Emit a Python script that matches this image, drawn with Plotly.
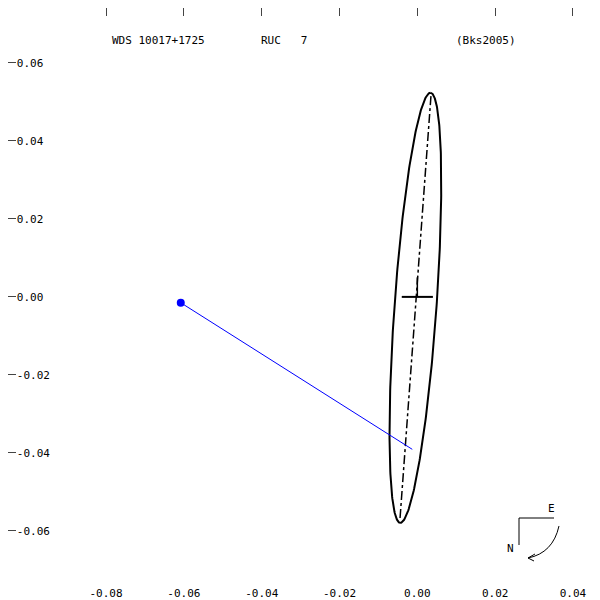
import numpy as np
import plotly.graph_objects as go

# orbit ellipse parameters (apparent)
center = (-0.0005, -0.0028)
semi_major_vec = (0.0039, 0.05515)
semi_minor = 0.0054
node_line_x = [0.0035, -0.0045]
node_line_y = [0.0515, -0.0575]
obs_x = [-0.0608]
obs_y = [-0.0015]
resid_x = [-0.0608, -0.0013]
resid_y = [-0.0015, -0.0391]
x_ticks = [-0.10, -0.08, -0.06, -0.04, -0.02, 0.00, 0.02, 0.04]
y_ticks = [-0.06, -0.04, -0.02, 0.00, 0.02, 0.04, 0.06]

t = np.linspace(0, 2*np.pi, 361)
ax_, ay_ = semi_major_vec
L = np.hypot(ax_, ay_)
px, py = ay_/L*semi_minor, -ax_/L*semi_minor
ex = center[0] + ax_*np.cos(t) + px*np.sin(t)
ey = center[1] + ay_*np.cos(t) + py*np.sin(t)

fig = go.Figure()
fig.add_trace(go.Scatter(x=ex, y=ey, mode="lines", line=dict(color="black", width=2)))
fig.add_trace(go.Scatter(x=node_line_x, y=node_line_y, mode="lines", line=dict(color="black", width=1.5, dash="dashdot")))
fig.add_trace(go.Scatter(x=[-0.004, 0.004], y=[0, 0], mode="lines", line=dict(color="black", width=2)))
fig.add_trace(go.Scatter(x=[0, 0], y=[0, 0.005], mode="lines", line=dict(color="black", width=1.5)))
fig.add_trace(go.Scatter(x=resid_x, y=resid_y, mode="lines", line=dict(color="blue", width=1)))
fig.add_trace(go.Scatter(x=obs_x, y=obs_y, mode="markers", marker=dict(color="blue", size=8)))

font = dict(family="DejaVu Sans Mono", size=11, color="black")
def axis(vals, rng):
    return dict(range=rng, showgrid=False, zeroline=False, ticks="inside", ticklen=8, tickwidth=1,
                tickvals=vals, ticktext=["%.2f" % v for v in vals], ticklabelposition="inside",
                showline=True, linecolor="black", linewidth=3, mirror="ticks", tickfont=font,
                automargin=False)
fig.update_layout(width=600, height=600, margin=dict(l=0, r=0, t=0, b=0, pad=0, autoexpand=False),
                  plot_bgcolor="white", paper_bgcolor="white", showlegend=False,
                  xaxis=axis(x_ticks, [-0.1052, 0.0490]),
                  yaxis=axis(y_ticks, [-0.0798, 0.0741]))
for txt, x in [("WDS 10017+1725", 0.17), ("RUC   7", 0.46), ("(Bks2005)", 0.85)]:
    fig.add_annotation(text=txt, x=x, y=0.96, xref="paper", yref="paper", showarrow=False, font=font)

def P(px_, py_):
    return px_/600, 1-py_/600
pts = [P(546, 510), P(511, 510), P(511, 537)]
fig.add_shape(type="path", xref="paper", yref="paper",
              path="M %f %f L %f %f L %f %f" % (pts[0][0], pts[0][1], pts[1][0], pts[1][1], pts[2][0], pts[2][1]),
              line=dict(color="black", width=1))
a0, a1, a2 = P(551, 518), P(545, 545), P(520, 550)
fig.add_shape(type="path", xref="paper", yref="paper",
              path="M %f %f Q %f %f %f %f" % (a0[0], a0[1], a1[0], a1[1], a2[0], a2[1]),
              line=dict(color="black", width=1))
h1, h2 = P(527, 546), P(526, 553)
fig.add_shape(type="path", xref="paper", yref="paper",
              path="M %f %f L %f %f L %f %f" % (h1[0], h1[1], a2[0], a2[1], h2[0], h2[1]),
              line=dict(color="black", width=1))
e, n = P(549, 509), P(508, 549)
fig.add_annotation(text="E", x=e[0], y=e[1], xref="paper", yref="paper", showarrow=False, font=font)
fig.add_annotation(text="N", x=n[0], y=n[1], xref="paper", yref="paper", showarrow=False, font=font)
fig.write_html("out.html")
